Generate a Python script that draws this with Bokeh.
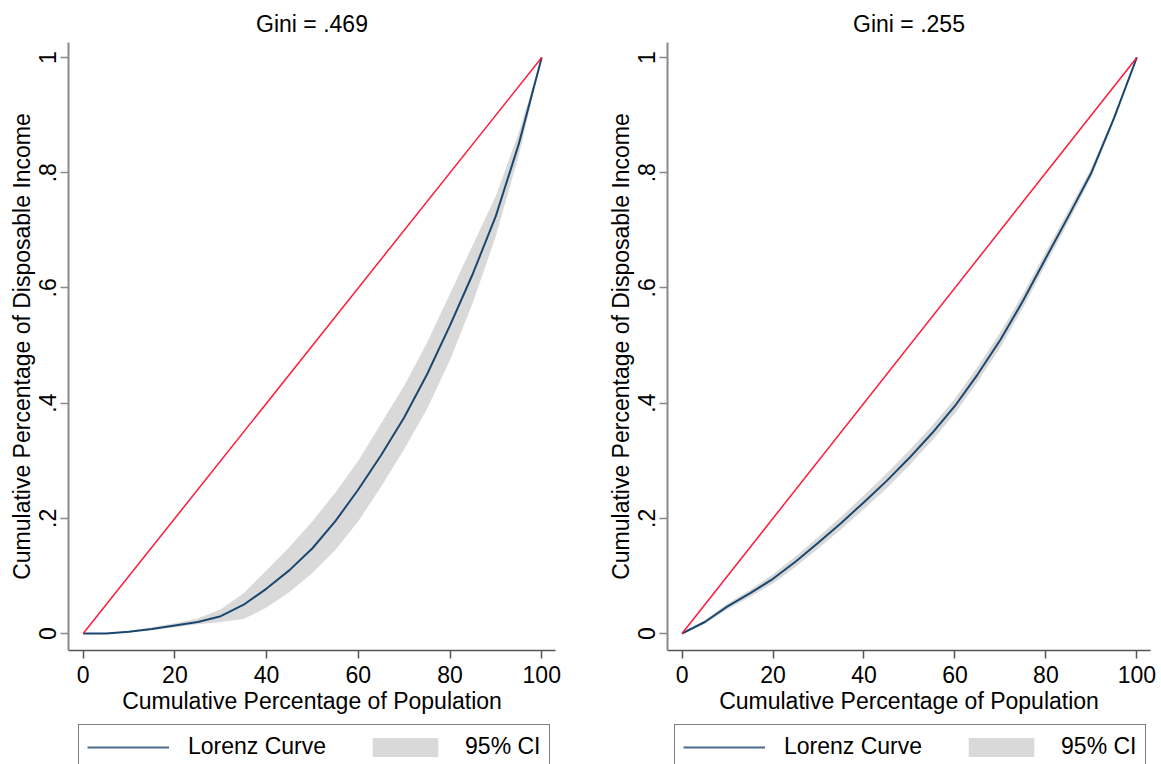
from bokeh.plotting import figure
from bokeh.layouts import row, column
from bokeh.models import FixedTicker, Legend, LegendItem, Range1d
from bokeh.embed import file_html
from bokeh.resources import INLINE

# ---------------- data ----------------
population = [0, 5, 10, 15, 20, 25, 30, 35, 40, 45, 50, 55, 60, 65, 70, 75, 80, 85, 90, 95, 100]

left_lorenz = [0, 0.0, 0.003, 0.008, 0.014, 0.02, 0.03, 0.05, 0.078, 0.11, 0.148, 0.195, 0.25,
               0.31, 0.375, 0.45, 0.535, 0.625, 0.725, 0.85, 1.0]
left_lo = [0, 0.0, 0.002, 0.006, 0.011, 0.016, 0.02, 0.025, 0.045, 0.072, 0.105, 0.145, 0.195,
           0.255, 0.32, 0.39, 0.475, 0.575, 0.69, 0.83, 1.0]
left_hi = [0, 0.001, 0.005, 0.011, 0.018, 0.026, 0.042, 0.07, 0.11, 0.15, 0.195, 0.245, 0.3,
           0.365, 0.43, 0.505, 0.59, 0.675, 0.76, 0.87, 1.0]

right_lorenz = [0, 0.02, 0.047, 0.07, 0.095, 0.125, 0.158, 0.192, 0.228, 0.265, 0.305, 0.348,
                0.395, 0.45, 0.51, 0.578, 0.652, 0.725, 0.80, 0.895, 1.0]
right_lo = [0, 0.017, 0.042, 0.064, 0.087, 0.116, 0.148, 0.181, 0.216, 0.252, 0.292, 0.335,
            0.382, 0.437, 0.497, 0.566, 0.641, 0.715, 0.792, 0.89, 1.0]
right_hi = [0, 0.023, 0.052, 0.076, 0.103, 0.134, 0.168, 0.203, 0.24, 0.278, 0.318, 0.361,
            0.408, 0.463, 0.523, 0.59, 0.663, 0.735, 0.808, 0.90, 1.0]

equality_x = [0, 100]
equality_y = [0, 1]

x_ticks = [0, 20, 40, 60, 80, 100]
y_ticks = [0, 0.2, 0.4, 0.6, 0.8, 1]
y_tick_labels = ["0", ".2", ".4", ".6", ".8", "1"]

titles = ["Gini = .469", "Gini = .255"]
x_label = "Cumulative Percentage of Population"
y_label = "Cumulative Percentage of Disposable Income"
legend_labels = ["Lorenz Curve", "95% CI"]

FONT = "Liberation Sans"
FS = "23px"
LINE_COLOR = "#1a476f"
LEG_LINE_COLOR = "#4a6b8c"
BAND_COLOR = "#d9d9d9"
RED = "#ff1a3c"
MAIN_H = 720
LEG_H = 44


def make_panel(title, lorenz, lo, hi, width, bl, br):
    p = figure(width=width, height=MAIN_H, output_backend="svg", toolbar_location=None,
               x_range=Range1d(-3.2, 103), y_range=Range1d(-0.0295, 1.026),
               min_border_left=bl, min_border_right=br, min_border_top=42,
               min_border_bottom=MAIN_H - 650, title=title)
    p.title.text_font = FONT
    p.title.text_font_size = FS
    p.title.text_font_style = "normal"
    p.title.align = "center"
    p.title.text_color = "#000000"
    p.title.standoff = 11
    p.outline_line_color = None
    p.grid.visible = False
    p.background_fill_color = "white"
    p.border_fill_color = "white"

    p.varea(x=population, y1=lo, y2=hi, fill_color=BAND_COLOR, fill_alpha=1)
    p.line(population, lorenz, line_color=LINE_COLOR, line_width=2)
    p.line(equality_x, equality_y, line_color=RED, line_width=1.5)

    xa = p.xaxis[0]
    xa.ticker = FixedTicker(ticks=x_ticks)
    xa.axis_label = x_label
    ya = p.yaxis[0]
    ya.ticker = FixedTicker(ticks=y_ticks)
    ya.major_label_overrides = {t: s for t, s in zip(y_ticks, y_tick_labels)}
    ya.major_label_orientation = "vertical"
    ya.axis_label = y_label
    for ax in (xa, ya):
        ax.axis_label_text_font = FONT
        ax.axis_label_text_font_size = FS
        ax.axis_label_text_font_style = "normal"
        ax.axis_label_text_color = "#000000"
        ax.major_label_text_font = FONT
        ax.major_label_text_font_size = FS
        ax.major_label_text_color = "#000000"
        ax.minor_tick_line_color = None
        ax.major_tick_in = 0
        ax.major_tick_out = 8
        ax.axis_label_standoff = 2
    xa.major_label_standoff = 7
    ya.major_label_standoff = 4
    xa.axis_line_color = "#555555"
    xa.axis_line_width = 1.5
    xa.major_tick_line_color = "#555555"
    xa.major_tick_line_width = 1.5
    ya.axis_line_color = "#8a8a8a"
    ya.axis_line_width = 2
    ya.major_tick_line_color = "#8a8a8a"
    ya.major_tick_line_width = 1.5
    return p


def make_legend(width, bl, br, dx):
    q = figure(width=width, height=LEG_H, output_backend="svg", toolbar_location=None,
               x_range=Range1d(0, 1), y_range=Range1d(0, 1),
               x_axis_location=None, y_axis_location=None,
               min_border_left=bl, min_border_right=br, min_border_top=0, min_border_bottom=0)
    q.outline_line_color = None
    q.grid.visible = False
    # off-range proxies, only used to draw the legend keys
    ln = q.line([5, 6], [5, 6], line_color=LEG_LINE_COLOR, line_width=2)
    ar = q.varea(x=[5, 6], y1=[5, 5], y2=[6, 6], fill_color=BAND_COLOR, fill_alpha=1)
    legend = Legend(items=[LegendItem(label=legend_labels[0], renderers=[ln]),
                           LegendItem(label=legend_labels[1], renderers=[ar])],
                    orientation="horizontal", location=(dx, -5))
    legend.label_text_font = FONT
    legend.label_text_font_size = FS
    legend.label_text_color = "#000000"
    legend.glyph_width = 82
    legend.glyph_height = 24
    legend.label_standoff = 19
    legend.spacing = 38
    legend.padding = 8
    legend.margin = 0
    legend.border_line_color = "#000000"
    legend.border_line_width = 1.5
    legend.background_fill_color = "white"
    q.add_layout(legend, "center")
    return q


left = make_panel(titles[0], left_lorenz, left_lo, left_hi, 580, 68, 25)
right = make_panel(titles[1], right_lorenz, right_lo, right_hi, 581, 87, 11)
left_leg = make_legend(580, 68, 25, 10)
right_leg = make_legend(581, 87, 11, 7)

layout = row(column(left, left_leg, spacing=0), column(right, right_leg, spacing=0), spacing=0)
open("out.html", "w").write(file_html(layout, INLINE))
